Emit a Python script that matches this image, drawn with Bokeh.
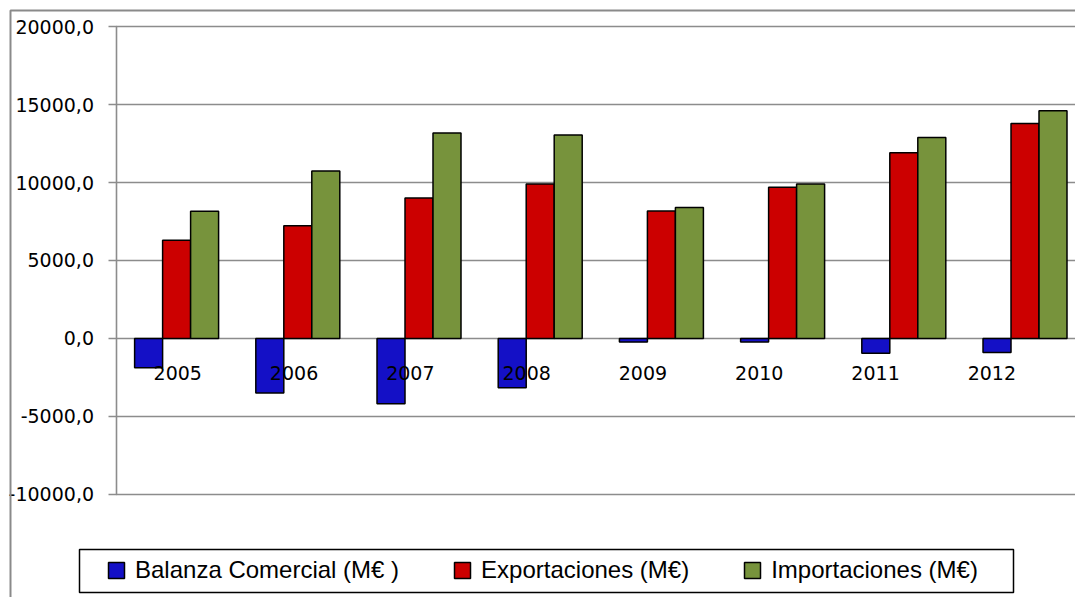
import numpy as np
from bokeh.plotting import figure
from bokeh.models import (Range1d, FixedTicker, Legend, LegendItem, BoxAnnotation,
                          ColumnDataSource, LinearAxis)
from bokeh.transform import dodge
from bokeh.core.properties import value
from bokeh.embed import file_html
from bokeh.resources import INLINE

# ---- data ----
years = ["2005", "2006", "2007", "2008", "2009", "2010", "2011", "2012"]
balanza = [-1870, -3500, -4190, -3160, -230, -220, -950, -900]
exportaciones = [6300, 7220, 9000, 9900, 8170, 9690, 11910, 13780]
importaciones = [8160, 10740, 13180, 13050, 8400, 9900, 12880, 14600]
series_names = ["Balanza Comercial (M\u20ac )", "Exportaciones (M\u20ac)", "Importaciones (M\u20ac)"]
series_colors = ["#1410C6", "#CC0000", "#77933C"]
y_ticks = [-10000, -5000, 0, 5000, 10000, 15000, 20000]
y_tick_labels = ["-10000,0", "-5000,0", "0,0", "5000,0", "10000,0", "15000,0", "20000,0"]

W, H = 1075, 597
GRID = "#8c8c8c"

src = ColumnDataSource(dict(
    x=np.arange(len(years)) + 0.5,
    year=years,
    bal=balanza,
    exp=exportaciones,
    imp=importaciones,
))

x_range = Range1d(-0.9530, 7.9166)
p = figure(width=W, height=H, output_backend="svg", toolbar_location=None,
           x_range=x_range, y_range=Range1d(-16603, 21667),
           x_axis_location=None, y_axis_location=None,
           min_border_left=0, min_border_right=0, min_border_top=0,
           min_border_bottom=0)
p.outline_line_color = None
p.background_fill_color = "white"
p.border_fill_color = "white"
p.grid.visible = False

# category label scale (labels in the original are spaced slightly tighter than bars)
p.extra_x_ranges = {"labels": Range1d(-1.0240, 8.2193)}

# horizontal gridlines (only to the right of the value axis)
grid_src = ColumnDataSource(dict(y=y_ticks, x0=[0] * len(y_ticks),
                                 x1=[x_range.end] * len(y_ticks)))
p.segment(x0="x0", x1="x1", y0="y", y1="y", source=grid_src,
          line_color=GRID, line_width=1.6)

# y axis at x = 0
ax = LinearAxis(fixed_location=0)
ax.ticker = FixedTicker(ticks=y_ticks)
ax.bounds = (y_ticks[0], y_ticks[-1])
ax.major_label_overrides = {t: l for t, l in zip(y_ticks, y_tick_labels)}
ax.axis_line_color = GRID
ax.axis_line_width = 1.6
ax.major_tick_line_color = GRID
ax.major_tick_line_width = 1.6
ax.major_tick_out = 8
ax.major_tick_in = 0
ax.minor_tick_line_color = None
ax.major_label_standoff = 14
ax.major_label_text_font = "DejaVu Sans"
ax.major_label_text_font_size = "19px"
ax.major_label_text_color = "black"
p.add_layout(ax, "left")

bw = 0.231
r_bal = p.vbar(x=dodge("x", -bw, range=p.x_range), top="bal", bottom=0, width=bw,
               source=src, fill_color=series_colors[0], line_color="black", line_width=1.5)
r_exp = p.vbar(x="x", top="exp", bottom=0, width=bw,
               source=src, fill_color=series_colors[1], line_color="black", line_width=1.5)
r_imp = p.vbar(x=dodge("x", bw, range=p.x_range), top="imp", bottom=0, width=bw,
               source=src, fill_color=series_colors[2], line_color="black", line_width=1.5)

# category labels next to the zero line
p.text(x="x", y=0, text="year", source=src, x_range_name="labels",
       text_align="center", text_baseline="alphabetic", y_offset=35,
       text_font=value("DejaVu Sans"), text_font_size="19px", text_color="black")

# outer chart border (screen y measured from the bottom)
p.add_layout(BoxAnnotation(left=10, right=W + 20, top=H - 10, bottom=-20,
                           left_units="screen", right_units="screen",
                           top_units="screen", bottom_units="screen",
                           fill_alpha=0, line_color="#8a8a8a", line_alpha=1,
                           line_width=2))

# legend frame
p.add_layout(BoxAnnotation(left=79, right=1013, top=H - 549, bottom=H - 592,
                           left_units="screen", right_units="screen",
                           top_units="screen", bottom_units="screen",
                           fill_color="white", fill_alpha=1,
                           line_color="black", line_alpha=1, line_width=1.5))

legend = Legend(items=[LegendItem(label=series_names[0], renderers=[r_bal]),
                       LegendItem(label=series_names[1], renderers=[r_exp]),
                       LegendItem(label=series_names[2], renderers=[r_imp])],
                orientation="horizontal", location=(106, 13), margin=0,
                padding=0, spacing=53, glyph_width=20, glyph_height=20,
                label_standoff=9, border_line_color=None,
                background_fill_alpha=0,
                label_text_font="Liberation Sans", label_text_font_size="24px",
                label_text_color="black")
p.add_layout(legend, "center")

open("out.html", "w").write(file_html(p, INLINE))
